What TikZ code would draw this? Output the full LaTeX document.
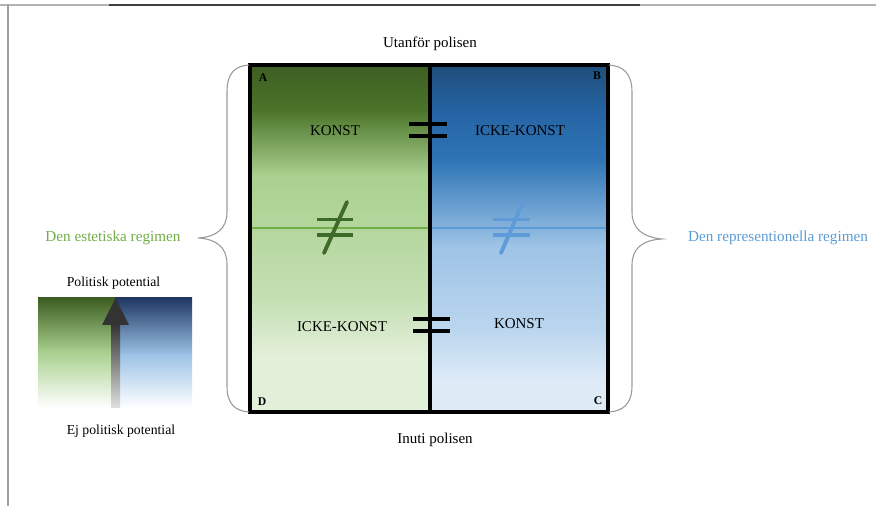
\documentclass[tikz,border=0pt]{standalone}
\usepackage{fontspec}
\setmainfont{Liberation Serif}
\definecolor{gA}{HTML}{3D5E22}
\definecolor{gB}{HTML}{4B7429}
\definecolor{gC}{HTML}{A9D08E}
\definecolor{gD}{HTML}{C5E0B4}
\definecolor{gE}{HTML}{E2EFD9}
\definecolor{bA}{HTML}{1F4E79}
\definecolor{bB}{HTML}{2563A3}
\definecolor{bC}{HTML}{2E75B6}
\definecolor{bD}{HTML}{9DC3E6}
\definecolor{bE}{HTML}{BBD6EF}
\definecolor{bF}{HTML}{DEEBF7}
\definecolor{neqgreen}{HTML}{3F6B28}
\definecolor{neqblue}{HTML}{5F9BD8}
\definecolor{lgreen}{HTML}{70AD47}
\definecolor{lblue}{HTML}{5B9BD5}
\definecolor{navy}{HTML}{1F3864}
\begin{document}
\begin{tikzpicture}[x=0.75pt,y=-0.75pt,
  lbl/.style={font=\fontsize{11.25}{13}\selectfont, inner sep=0pt},
  corner/.style={font=\fontsize{8.8}{10}\selectfont\bfseries, inner sep=0pt},
  side/.style={font=\fontsize{11.4}{13}\selectfont, inner sep=0pt},
  leg/.style={font=\fontsize{10.3}{12}\selectfont, inner sep=0pt},
  eqbar/.style={line width=2.8pt, black},
  neqbar/.style={line width=2.9pt},
  bracestyle/.style={draw=gray!80, line width=0.8pt},
  frame/.style={line width=2.3pt, black}]
\useasboundingbox (0,0) rectangle (876,506);
% page frame lines
\draw[gray!60, line width=1.2pt] (0,5) -- (876,5);
\draw[black!75, line width=1.4pt] (109,5) -- (640,5);
\draw[gray!75, line width=1.1pt] (8,5) -- (8,506);
% left panel gradient
\shade[top color=gA, bottom color=gB] (250,65) rectangle (430,110.5);
\shade[top color=gB, bottom color=gC] (250,110) rectangle (430,175.5);
\shade[top color=gC, bottom color=gD] (250,175) rectangle (430,300.5);
\shade[top color=gD, bottom color=gE] (250,300) rectangle (430,355.5);
\fill[gE] (250,355) rectangle (430,412);
% right panel gradient
\shade[top color=bA, bottom color=bB] (430,65) rectangle (608,110.5);
\shade[top color=bB, bottom color=bC] (430,110) rectangle (608,160.5);
\shade[top color=bC, bottom color=bD] (430,160) rectangle (608,245.5);
\shade[top color=bD, bottom color=bE] (430,245) rectangle (608,330.5);
\shade[top color=bE, bottom color=bF] (430,330) rectangle (608,380.5);
\fill[bF] (430,380) rectangle (608,412);
% middle horizontal line
\draw[lgreen, line width=0.8pt] (250,228) -- (430,228);
\draw[lblue, line width=0.8pt] (430,228) -- (608,228);
% square
\draw[frame] (250,65) rectangle (608,412);
\draw[frame] (430,65) -- (430,412);
% equals signs
\draw[eqbar] (409,124) -- (447,124);
\draw[eqbar] (409,136) -- (447,136);
\draw[eqbar] (413,319) -- (450,319);
\draw[eqbar] (413,331) -- (450,331);
% not-equal signs
\draw[neqbar, neqgreen] (317,219.5) -- (353,219.5);
\draw[neqbar, neqgreen] (317,235) -- (353,235);
\draw[neqbar, neqgreen, line cap=round] (347,202) -- (324,253);
\draw[neqbar, neqblue] (493,219.5) -- (530,219.5);
\draw[neqbar, neqblue] (493,235) -- (530,235);
\draw[neqbar, neqblue, line cap=round] (523,202) -- (501,253);
% braces
\draw[bracestyle] (249,65) .. controls (235,66) and (227,73) .. (227,92) -- (227,212) .. controls (227,229) and (216,237) .. (198,238) .. controls (216,239) and (227,247) .. (227,264) -- (227,386) .. controls (227,404) and (235,411) .. (249,412);
\draw[bracestyle] (609,65) .. controls (623,66) and (632,73) .. (632,92) -- (632,212) .. controls (632,229) and (643,237) .. (662,239) .. controls (643,240) and (632,248) .. (632,265) -- (632,386) .. controls (632,404) and (623,411) .. (609,412);
% labels
\node[lbl] (top) at (430,44) {Utanför polisen};
\node[lbl] (bottom) at (435,440) {Inuti polisen};
\node[corner] (A) at (263,78) {A};
\node[corner] (B) at (597,76) {B};
\node[corner] (C) at (598,401) {C};
\node[corner] (D) at (262,402) {D};
\node[lbl] (k1) at (335,131) {KONST};
\node[lbl] (ik1) at (520,131) {ICKE-KONST};
\node[lbl] (ik2) at (342,327) {ICKE-KONST};
\node[lbl] (k2) at (519,324) {KONST};
\node[side, text=lgreen] (est) at (113,238) {Den estetiska regimen};
\node[side, text=lblue] (rep) at (778,238) {Den representionella regimen};
% legend
\shade[top color=gA, bottom color=gC] (38,298) rectangle (115,352.5);
\shade[top color=gC, bottom color=white] (38,352) rectangle (115,408);
\shade[top color=navy, bottom color=bD] (115,298) rectangle (192,355.5);
\shade[top color=bD, bottom color=white] (115,355) rectangle (192,408);
\shade[top color=black!80, bottom color=black!12] (111,324) rectangle (120,408);
\fill[black!80] (102,325) -- (115.5,298) -- (129,325) -- cycle;
\node[leg] (pp) at (113.5,283) {Politisk potential};
\node[leg] (ep) at (121,431) {Ej politisk potential};
\end{tikzpicture}
\end{document}
